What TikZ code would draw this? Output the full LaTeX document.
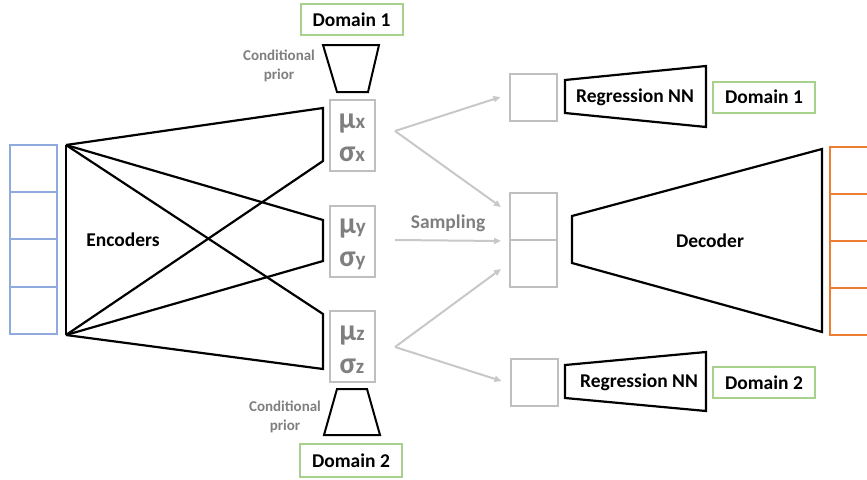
\documentclass[tikz,border=0pt]{standalone}
\usepackage{fontspec}
\setmainfont{Carlito}
\usetikzlibrary{arrows.meta}
\definecolor{inblue}{HTML}{8FAADC}
\definecolor{outorange}{HTML}{ED7D31}
\definecolor{domgreen}{HTML}{A9D18E}
\definecolor{boxgray}{RGB}{191,191,191}
\definecolor{arrgray}{RGB}{200,200,200}
\definecolor{txtgray}{RGB}{127,127,127}
\begin{document}
\begin{tikzpicture}[x=1pt,y=-1pt,
  net/.style={draw=black,line width=2.2pt,line join=miter},
  latbox/.style={draw=boxgray,line width=2pt,minimum width=45pt,minimum height=71pt,inner sep=0pt},
  lattext/.style={text=txtgray,align=center,inner sep=0pt,font=\fontsize{30}{33}\selectfont\bfseries},
  smallbox/.style={draw=boxgray,line width=2pt,minimum width=47pt,minimum height=47pt,inner sep=0pt},
  dombox/.style={draw=domgreen,line width=2pt,minimum width=102pt,minimum height=31pt,inner sep=0pt,
    font=\fontsize{19.5}{21}\selectfont\bfseries},
  lbl/.style={font=\fontsize{19.5}{21}\selectfont\bfseries,inner sep=0pt},
  priorlbl/.style={font=\fontsize{15}{19}\selectfont\bfseries,text=txtgray,align=center,inner sep=0pt},
  samp/.style={draw=arrgray,line width=2pt,-{Triangle[length=7pt,width=6pt]}},
  cell/.style={draw=inblue,line width=2pt,minimum width=47pt,minimum height=47.25pt,inner sep=0pt},
]
\useasboundingbox (0,0) rectangle (867,479);

% input column
\foreach \i in {0,1,2,3}{
  \node[cell] (in\i) at (33.5,{168.6+47.25*\i}) {};
}

% encoders
\coordinate (eA) at (66,145);
\coordinate (eB) at (66,335);
\draw[net] (eA) -- (eB);
\draw[net] (eA) -- (323,108) -- (323,161) -- (eB);
\draw[net] (eA) -- (323,220) -- (323,261) -- (eB);
\draw[net] (eA) -- (323,314) -- (323,369) -- (eB);
\node[lbl] (enc) at (123,240) {Encoders};

% latent boxes
\newcommand{\mulat}[1]{μ{\fontsize{21}{21}\selectfont #1}\\σ{\fontsize{21}{21}\selectfont #1}}
\node[latbox] (mx) at (352,135) {};
\node[latbox] (my) at (352.5,241) {};
\node[latbox] (mz) at (352,346.5) {};
\node[lattext] (mxt) at ([yshift=-3pt]mx.center) {\mulat{x}};
\node[lattext] (myt) at ([yshift=-3pt]my.center) {\mulat{y}};
\node[lattext] (mzt) at ([yshift=-3pt]mz.center) {\mulat{z}};

% conditional priors
\draw[net,line width=2pt] (323,45) -- (379,45) -- (368,92) -- (337,92) -- cycle;
\draw[net,line width=2pt] (337,389) -- (367,389) -- (380,435) -- (324,435) -- cycle;
\node[dombox] (d1t) at (351.5,19.5) {Domain 1};
\node[dombox,minimum height=33pt] (d2b) at (351,460.5) {Domain 2};
\node[priorlbl] (cp1) at (279,65.5) {Conditional\\prior};
\node[priorlbl] (cp2) at (285,416.5) {Conditional\\prior};

% sampled boxes
\node[smallbox] (s1) at (533,97) {};
\node[smallbox] (s2a) at (533.5,216.5) {};
\node[smallbox] (s2b) at (533.5,263.5) {};
\node[smallbox] (s3) at (534,382) {};

% sampling arrows
\coordinate (vx) at (395,131);
\coordinate (vy) at (395,240);
\coordinate (vz) at (395,347);
\draw[samp] (vx) -- ([xshift=-8pt]s1.west);
\draw[samp] (vx) -- ([xshift=-8pt]s2a.west |- 0,207);
\draw[samp] (vy) -- ([xshift=-8pt]s2a.south west);
\draw[samp] (vz) -- ([xshift=-8pt]s2b.west |- 0,269);
\draw[samp] (vz) -- ([xshift=-8pt]s3.west |- 0,381);
\node[lbl,text=txtgray] (sampl) at (448,223) {Sampling};

% regression nets
\draw[net] (565,80) -- (706,66) -- (706,127) -- (565,113) -- cycle;
\node[lbl] (r1) at (635,97) {Regression NN};
\node[dombox] (d1r) at (764,97) {Domain 1};
\draw[net] (565,365) -- (706,352) -- (706,411) -- (565,398) -- cycle;
\node[lbl] (r2) at (639,382) {Regression NN};
\node[dombox] (d2r) at (764,382.5) {Domain 2};

% decoder
\draw[net] (572,216) -- (822,149) -- (822,332) -- (572,263) -- cycle;
\node[lbl] (dec) at (710,241) {Decoder};

% output column (cut by the page edge)
\draw[draw=outorange,line width=2pt] (869,147) -- (830,147) -- (830,335) -- (869,335);
\foreach \yy in {194,241,288}{
  \draw[draw=outorange,line width=2pt] (830,\yy) -- (869,\yy);
}
\end{tikzpicture}
\end{document}
